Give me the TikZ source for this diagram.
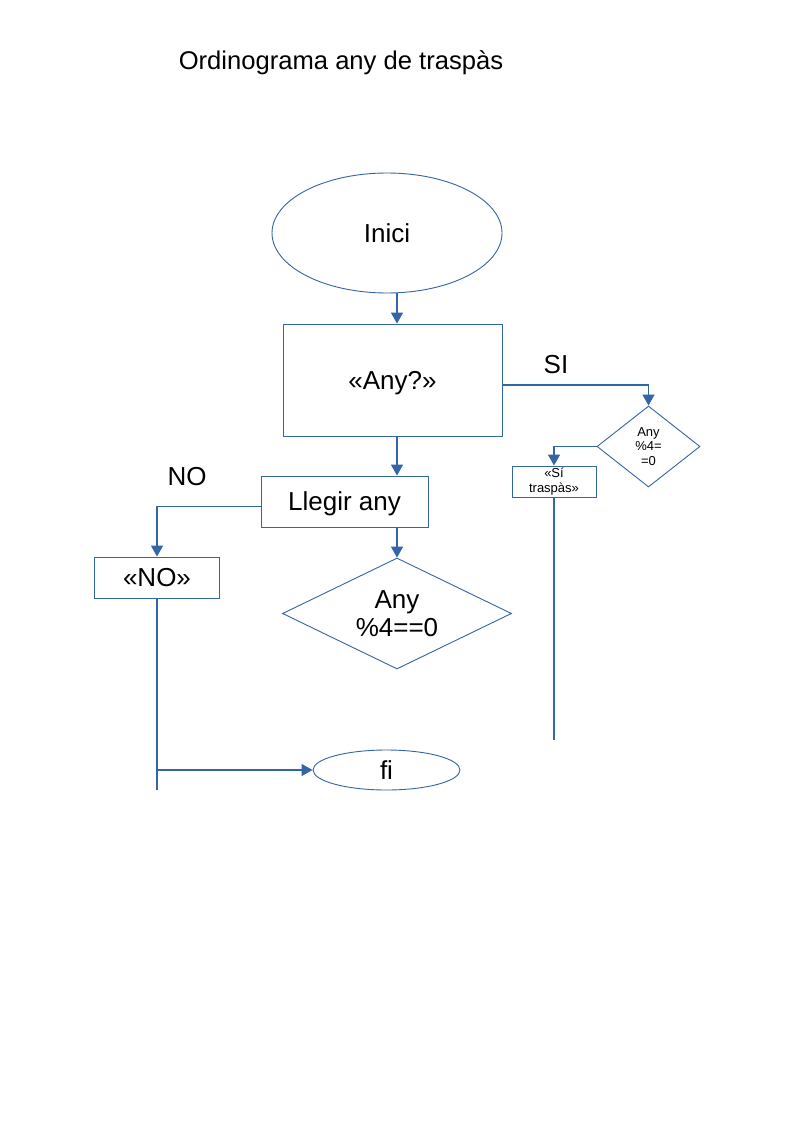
\documentclass[tikz,border=0pt]{standalone}
\usepackage{fontspec}
\setmainfont{Liberation Sans}
\usetikzlibrary{shapes.geometric,arrows.meta}
\definecolor{lo}{HTML}{3465A4}
\tikzset{
  shapeline/.style={draw=lo, line width=0.9pt, inner sep=0pt, align=center},
  boxnode/.style={shapeline, rectangle},
  ovalnode/.style={shapeline, ellipse},
  decnode/.style={shapeline, diamond},
  conn/.style={draw=lo, line width=1.3pt},
  arr/.style={conn, -{Triangle[width=12pt,length=11pt]}},
  big/.style={font=\fontsize{26}{28}\selectfont, text depth=0pt},
  small/.style={font=\fontsize{13}{14.5}\selectfont},
}
\begin{document}
\begin{tikzpicture}[x=1pt,y=-1pt]
\useasboundingbox[fill=white] (0,0) rectangle (794,1123);
\node[font=\fontsize{25.6}{30}\selectfont, anchor=base] (title) at (341,70) {Ordinograma any de traspàs};
\node[ovalnode, big, minimum width=230, minimum height=120] (inici) at (387,233) {Inici};
\node[boxnode, big, minimum width=219, minimum height=112] (any) at (392.5,380) {«Any?»};
\node[boxnode, big, minimum width=167, minimum height=51] (llegir) at (344.5,501.5) {Llegir any};
\node[decnode, big, shape aspect=2, minimum width=229, minimum height=111] (d1) at (397,613.5) {Any\\\%4==0};
\node[boxnode, big, minimum width=125, minimum height=41] (no) at (157,577.5) {«NO»};
\node[ovalnode, big, minimum width=147, minimum height=40] (fi) at (386.5,770) {fi};
\node[decnode, small, minimum width=103, minimum height=81] (d2) at (648.5,446.5) {Any\\\%4=\\=0};
\node[boxnode, small, minimum width=84, minimum height=31] (si) at (554,481.5) {«Sí\\traspàs»};
\node[big] (nolab) at (187,476) {NO};
\node[big] (silab) at (556,364) {SI};
\coordinate (nobot) at (157,790);
\coordinate (sibot) at (554,740);
\draw[arr] (inici.south -| d1.north) -- (any.north -| d1.north);
\draw[arr] (any.south -| d1.north) -- (llegir.north -| d1.north);
\draw[arr] (llegir.south -| d1.north) -- (d1.north);
\draw[arr] ([yshift=-5pt]llegir.west) -| (no.north);
\draw[conn] (no.south) -- (nobot);
\draw[arr] (no.south |- fi.west) -- (fi.west);
\draw[arr] ([yshift=-5pt]any.east) -| (d2.north);
\draw[arr] (d2.west) -| (si.north);
\draw[conn] (si.south) -- (sibot);
\end{tikzpicture}
\end{document}
